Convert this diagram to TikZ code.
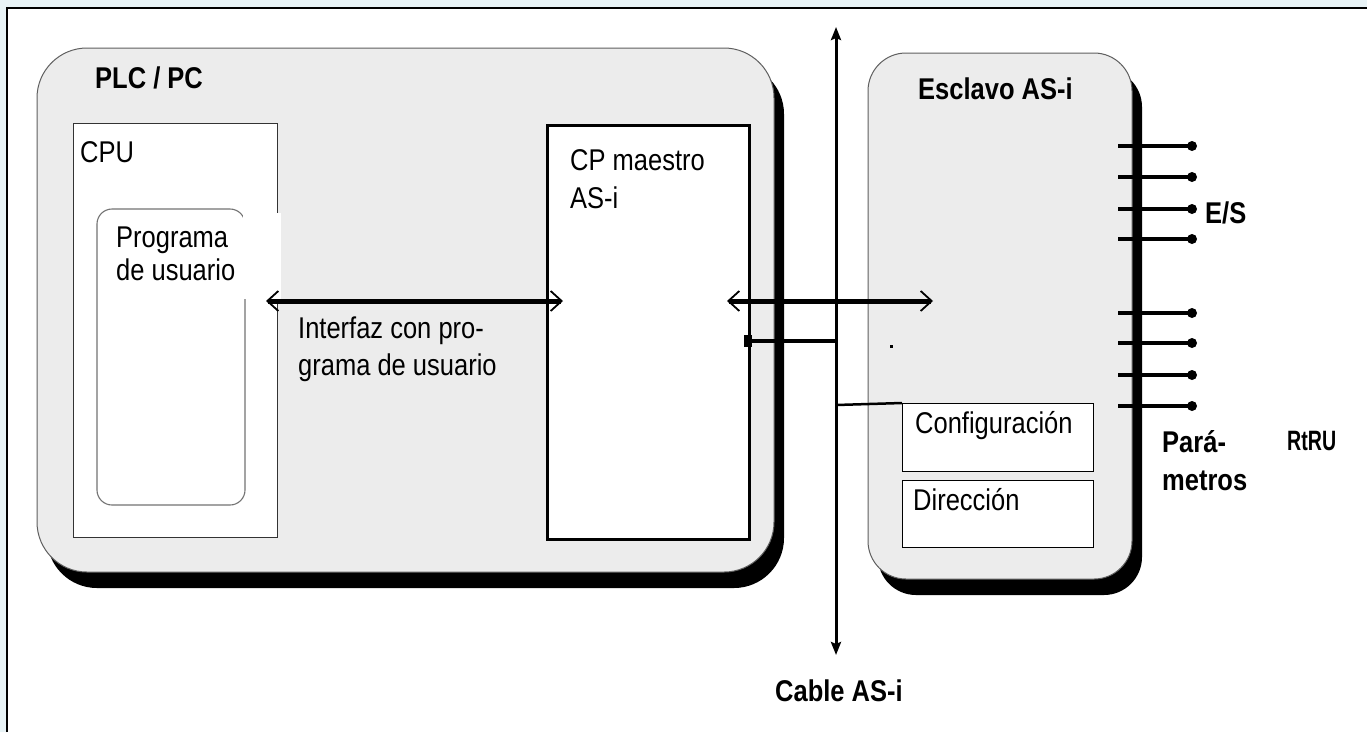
\documentclass[tikz,border=0pt]{standalone}
\usepackage{fontspec}
\setmainfont{Liberation Sans}[FakeStretch=0.85]
\newfontfamily\rtfont{Liberation Sans}[FakeStretch=0.7]
\usetikzlibrary{arrows.meta}
\definecolor{boxgray}{RGB}{236,236,236}
\definecolor{edgegray}{RGB}{95,95,95}
\definecolor{framebg}{RGB}{232,243,246}
\begin{document}
\begin{tikzpicture}[x=1pt,y=-1pt,
  txt/.style={anchor=base west, inner sep=0pt, font=\fontsize{30}{36}\selectfont},
  btxt/.style={anchor=base west, inner sep=0pt, font=\fontsize{30}{36}\selectfont\bfseries},
  rttxt/.style={anchor=base west, inner sep=0pt, font=\fontsize{28}{34}\rtfont\bfseries},
  shadowbox/.style={fill=black},
  graybox/.style={fill=boxgray, draw=edgegray, line width=1pt},
  innerbox/.style={draw=black, line width=1.2pt, fill=white},
  pinline/.style={line width=3.5pt},
  pindot/.style={circle, fill=black, inner sep=0pt, minimum size=10pt},
  barbs/.style={line width=5pt,
    {Straight Barb[length=11pt,width=20pt,line width=1.8pt]}-{Straight Barb[length=11pt,width=20pt,line width=1.8pt]}},
  cablearrow/.style={line width=3pt,
    {Stealth[length=13pt,width=10pt,inset=2pt]}-{Stealth[length=13pt,width=10pt,inset=2pt]}},
]
\useasboundingbox (0,0) rectangle (1367,732);
% frame
\fill[framebg] (0,0) rectangle (1367,732);
\fill[white] (7,8) rectangle (1367,732);
\draw[line width=2pt] (7,732) -- (7,8) -- (1367,8);

% PLC / PC box with shadow
\fill[shadowbox, rounded corners=50pt] (47,64) rectangle (784,588);
\draw[graybox, rounded corners=50pt] (37,48) rectangle (774,572);

% Esclavo box with shadow
\fill[shadowbox, rounded corners=38pt] (878,69) rectangle (1142,595);
\draw[graybox, rounded corners=38pt] (868,53) rectangle (1132,579);

% CPU box
\node[innerbox, draw=black!80, line width=1.2pt, anchor=north west, minimum width=204pt, minimum height=414pt, inner sep=0pt] (cpu) at (73,123) {};
% Programa de usuario box
\draw[fill=white, draw=black!55, line width=1.1pt, rounded corners=15pt] (97,209) rectangle (245,505);
\coordinate (prog) at (245,301);
% white patch (as in the original)
\fill[white] (243,213) rectangle (281,299);

% CP maestro box
\node[draw=black, line width=3pt, fill=white, anchor=north west, minimum width=202pt, minimum height=414pt, inner sep=0pt] (cp) at (546,124) {};

% Configuracion / Direccion boxes
\node[innerbox, anchor=north west, minimum width=191pt, minimum height=68pt, inner sep=0pt] (conf) at (902,403) {};
\node[innerbox, anchor=north west, minimum width=191pt, minimum height=67pt, inner sep=0pt] (dir) at (902,480) {};

% Cable AS-i
\coordinate (cabletop) at (836,27);
\coordinate (cablebot) at (836,655);
\draw[cablearrow] (cabletop) -- (cablebot);

% interface arrows
\coordinate (a1l) at (266,301);
\coordinate (a1r) at (563,301);
\draw[barbs] (a1l) -- (a1r);
\coordinate (a2l) at (727,301);
\coordinate (a2r) at (933,301);
\draw[barbs] (a2l) -- (a2r);

% connection CP -> cable
\coordinate (j1) at (745,341);
\coordinate (c1) at (836,341);
\fill (744,335) rectangle (752,347);
\draw[line width=3.5pt] (j1) -- (c1);
% connection cable -> Configuracion
\coordinate (c2) at (836,405);
\draw[line width=2.5pt] (c2) -- (conf.north west);
% small dot
\fill (889.5,344.5) rectangle (892.5,347.5);

% pins
\foreach \i/\y in {1/146,2/177,3/209,4/239,5/313,6/343,7/375,8/406}{
  \coordinate (ps\i) at (1118,\y);
  \node[pindot] (pd\i) at (1192,\y) {};
  \draw[pinline] (ps\i) -- (pd\i.center);
}

% texts
\node[btxt] (tplc) at (95,88) {PLC / PC};
\node[txt] (tcpu) at (80,162) {CPU};
\node[txt] (tprog1) at (116,247) {Programa};
\node[txt] (tprog2) at (116,280) {de usuario};
\node[txt] (tcp1) at (570,170) {CP maestro};
\node[txt] (tcp2) at (570,208) {AS-i};
\node[txt] (tint1) at (298,338) {Interfaz con pro-};
\node[txt] (tint2) at (298,375) {grama de usuario};
\node[btxt] (tesc) at (918,99) {Esclavo AS-i};
\node[btxt] (tes) at (1205,223) {E/S};
\node[txt] (tconf) at (915,433) {Configuración};
\node[txt] (tdir) at (913,510) {Dirección};
\node[btxt] (tpar1) at (1162,452) {Pará-};
\node[btxt] (tpar2) at (1162,490) {metros};
\node[rttxt] (trt) at (1287,450) {RtRU};
\node[btxt] (tcable) at (775,701) {Cable AS-i};
\end{tikzpicture}
\end{document}
